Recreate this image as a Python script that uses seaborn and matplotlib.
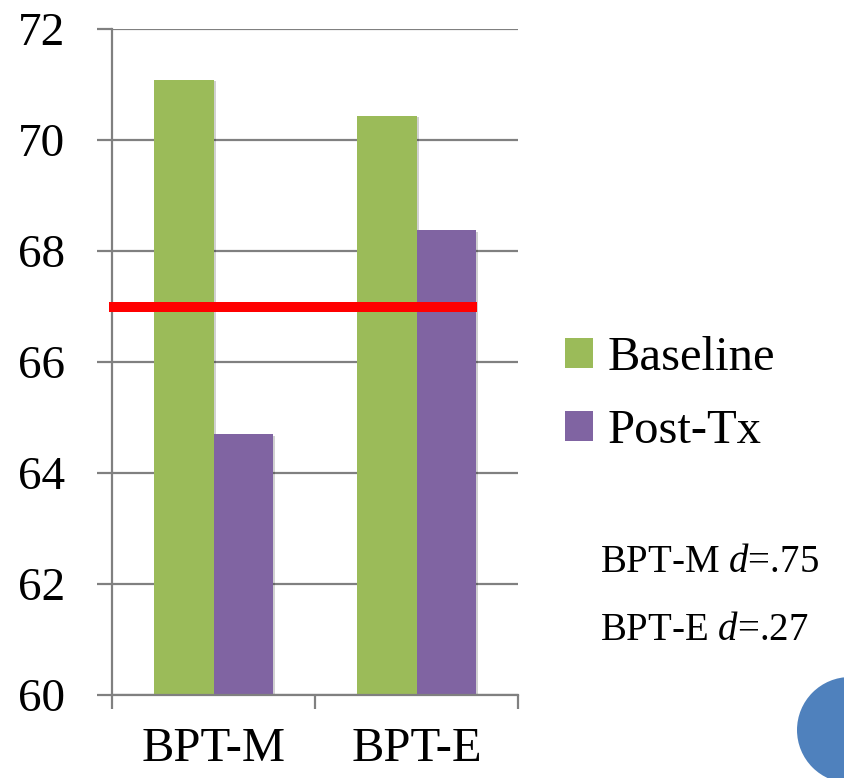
import matplotlib
matplotlib.use("Agg")
import matplotlib.pyplot as plt
import matplotlib.patches as mpatches
import matplotlib.patheffects as pe
import seaborn as sns
import pandas as pd

# ---- data ----
categories = ["BPT-M", "BPT-E"]
series_names = ["Baseline", "Post-Tx"]
baseline_values = [71.09, 70.44]
posttx_values = [64.70, 68.37]
threshold = 67.0
y_ticks = [60, 62, 64, 66, 68, 70, 72]
effect_labels = ["BPT-M $d$=.75", "BPT-E $d$=.27"]
colors = ["#9BBB59", "#8064A2"]

df = pd.DataFrame({
    "test": categories * 2,
    "phase": [series_names[0]] * len(categories) + [series_names[1]] * len(categories),
    "value": baseline_values + posttx_values,
})

sns.set_theme(style="white")
plt.rcParams["font.family"] = ["Liberation Serif", "DejaVu Serif"]
plt.rcParams["text.color"] = "black"
plt.rcParams["mathtext.fontset"] = "custom"
plt.rcParams["mathtext.rm"] = "Liberation Serif"
plt.rcParams["mathtext.it"] = "Liberation Serif:italic"

fig = plt.figure(figsize=(8.44, 7.78), dpi=100)
ax = fig.add_axes([112 / 844, 1 - 695 / 778, 406 / 844, 666 / 778])

sns.barplot(data=df, x="test", y="value", hue="phase", palette=colors,
            width=0.59, ax=ax, legend=False, saturation=1, errorbar=None,
            bottom=0)
ax.set_ylim(60, 72)
ax.set_xlim(-0.5, 1.5)
for p in ax.patches:
    p.set_path_effects([pe.SimplePatchShadow(offset=(1.5, -1), alpha=0.18, shadow_rgbFace="black"),
                        pe.Normal()])
    p.set_edgecolor("none")

# grid
ax.set_yticks(y_ticks)
ax.yaxis.grid(True, color="#808080", linewidth=1.6)
ax.set_axisbelow(True)
for s in ["top", "right"]:
    ax.spines[s].set_visible(False)
for s in ["left", "bottom"]:
    ax.spines[s].set_color("#808080")
    ax.spines[s].set_linewidth(1.6)

# threshold line
ax.axhline(threshold, xmin=-0.008, xmax=0.899, color="#FF0000", linewidth=7.2,
           clip_on=False, zorder=5, solid_capstyle="butt")

# ticks
ax.tick_params(axis="y", direction="out", length=11, width=1.6, color="#808080",
               labelsize=34, pad=23, left=True, labelcolor="black")
ax.set_xticks([0, 1])
ax.set_xticklabels(categories)
ax.set_xticks([-0.5, 0.5, 1.5], minor=True)
ax.tick_params(axis="x", which="major", length=0, labelsize=35, pad=23, labelcolor="black")
ax.tick_params(axis="x", which="minor", direction="out", length=10, width=1.6,
               color="#808080", bottom=True)
ax.set_xlabel("")
ax.set_ylabel("")

# legend
handles = [mpatches.Patch(facecolor=c, edgecolor="none", label=n) for c, n in zip(colors, series_names)]
fig.legend(handles=handles, loc="upper left", bbox_to_anchor=(565 / 844, 1 - 336 / 778),
           frameon=False, fontsize=35, handlelength=0.57, handleheight=0.57,
           handletextpad=0.3, labelspacing=0.6, borderaxespad=0, borderpad=0,
           labelcolor="black")

# effect sizes
fig.text(600 / 844, 1 - 572 / 778, effect_labels[0], fontsize=28, ha="left", va="baseline")
fig.text(600 / 844, 1 - 640 / 778, effect_labels[1], fontsize=28, ha="left", va="baseline")

# decorative circle
fig.patches.append(mpatches.Ellipse((850 / 844, 1 - 730 / 778), 106 / 844, 106 / 778,
                                    transform=fig.transFigure, facecolor="#4F81BD",
                                    edgecolor="none"))

fig.savefig("out.png", dpi=100)
